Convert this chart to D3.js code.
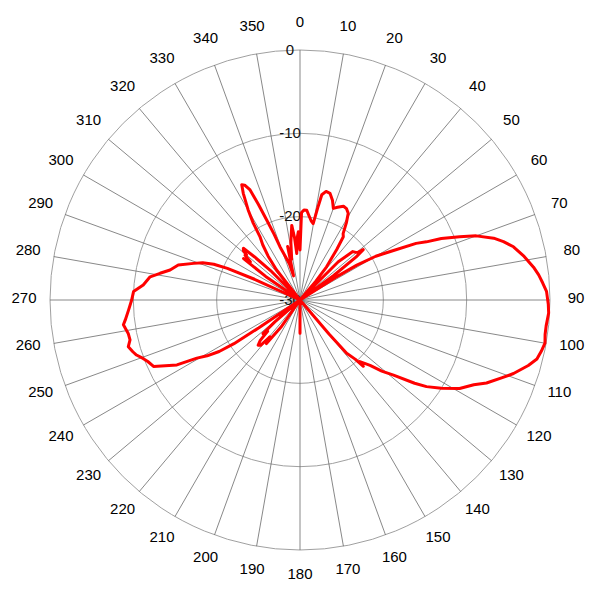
<!DOCTYPE html>
<html>
<head>
<meta charset="utf-8">
<script src="https://cdn.jsdelivr.net/npm/d3@7/dist/d3.min.js"></script>
<style>
  html, body { margin: 0; padding: 0; background: #fff; }
  svg { display: block; font-family: "Liberation Sans", Arial, sans-serif; }
</style>
</head>
<body>
<svg id="chart" width="600" height="600"></svg>
<script>
// ---- data ----
const angleTicks = d3.range(0, 360, 10);
const ringTicks = [0, -10, -20, -30];

const angles = [
  0, 1, 2.5, 4.3, 6, 8, 9.8, 11, 11.7, 13.5, 15.7, 18, 20, 22, 24.9, 27, 29.1, 31, 33, 34.4, 36, 38.7, 40, 41,
  42, 45, 47.5, 49.5, 50.5, 51.5, 52.5, 54, 55.5,
  56.5, 57.5, 58.5, 60, 62, 64, 65.3, 66.5, 68.4, 70, 72.3, 74, 76, 79, 82, 84, 86, 88, 91, 93, 96, 98, 100,
  102, 104, 106, 109, 111, 114, 116, 119, 122, 124.4, 126, 128.8, 131, 133, 135.8, 136.3, 137, 138.8, 139.5, 140.5,
  150, 170, 179, 180, 181, 200,
  213, 215, 217.6, 219.3, 221, 222.8, 224.5, 226, 227.8, 229, 231,
  235, 236, 236.5, 237.5, 239, 240.6, 242.2, 245.6, 248, 249.6, 251.4, 252.8, 254.8, 256.8, 259, 262, 263.5,
  266.7, 270, 272.9, 275.5, 278.8, 280.8, 283, 286, 289, 291, 292.5, 293.5, 294.5, 295.5,
  303, 304.5, 306.3, 307.5, 309.2, 310.2, 311, 312.4, 313.5, 315, 316.5,
  320, 322, 324, 326, 327.7, 328.7, 330.1, 332, 333.2, 334.3, 335.6, 336.5, 337.4, 338.5, 339.4, 341, 343.7,
  345, 347, 348.5, 351, 353.7, 355, 356, 357.5, 358.6, 359.5
];
const gains = [
  -24, -19.5, -19.2, -19.2, -19.8, -20.4, -20.7, -18.5, -17.1, -16.6, -16.7, -17.4, -18.3, -18, -17.6, -17.7, -18.1, -19.2, -20.5, -20.8, -22.5, -24.9, -27, -30,
  -30, -23.5, -21.4, -21.2, -21.0, -20.3, -21.5, -25, -30,
  -30, -25, -22, -19.5, -17.4, -14.5, -13.3, -11.5, -9.4, -7.5, -5.6, -4.6, -3.6, -2.6, -1.7, -1.2, -0.8, -0.4, -0.2, -0.12, -0.3, -0.3, -0.15,
  -0.4, -0.7, -1.5, -2.9, -4, -5.5, -6.8, -8.1, -10, -11.6, -13, -15.6, -17, -18.5, -19.7, -19.0, -20.3, -21.5, -24.6, -30,
  -30, -30, -30, -26, -30, -30,
  -30, -26, -23.4, -24.3, -22.8, -22.6, -23.2, -24.6, -24, -26, -30,
  -30, -24, -20.5, -18.5, -17, -15.8, -13.3, -10.7, -10.3, -9.9, -9.3, -9.0, -8.65, -9.05, -9.0, -8.6, -8.9,
  -9.4, -9.8, -10, -11.1, -11.8, -12.9, -14, -14.8, -16.5, -17.5, -18.8, -20.5, -24, -30,
  -30, -25, -21.6, -22.5, -21.5, -21.6, -21.0, -20.8, -22.5, -25, -30,
  -30, -25.4, -23.5, -22, -21, -19.2, -17.5, -15.5, -14.5, -14.7, -15.5, -17.5, -19.6, -21.5, -23.2, -24.3, -25.5,
  -27, -23.4, -25, -23, -21, -22.5, -24.4, -22.5, -21.8, -23
];

// ---- chart ----
const cx = 300, cy = 300, R = 250;
const svg = d3.select("#chart");
const g = svg.append("g").attr("transform", `translate(${cx},${cy})`);

const r = d3.scaleLinear().domain([-30, 0]).range([0, R]).clamp(true);
const toRad = d => d * Math.PI / 180;

// rings
g.selectAll("circle.ring").data(ringTicks.filter(d => d > -30)).join("circle")
  .attr("class", "ring")
  .attr("r", d => r(d))
  .attr("fill", "none")
  .attr("stroke", "#a0a0a0")
  .attr("stroke-width", 1);

// spokes
g.selectAll("line.spoke").data(angleTicks).join("line")
  .attr("class", "spoke")
  .attr("x1", 0).attr("y1", 0)
  .attr("x2", d => R * Math.sin(toRad(d)))
  .attr("y2", d => -R * Math.cos(toRad(d)))
  .attr("stroke", "#6a6a6a")
  .attr("stroke-width", 0.8);

// angle labels
const LR = 276;
g.selectAll("text.ang").data(angleTicks).join("text")
  .attr("class", "ang")
  .attr("x", d => LR * Math.sin(toRad(d)))
  .attr("y", d => -LR * Math.cos(toRad(d)) - 3)
  .attr("text-anchor", "middle")
  .attr("dominant-baseline", "central")
  .attr("font-size", 15)
  .attr("fill", "#000")
  .text(d => d);

// ring labels
g.selectAll("text.rl").data(ringTicks).join("text")
  .attr("class", "rl")
  .attr("x", -10)
  .attr("y", d => -r(d) - 1)
  .attr("text-anchor", "middle")
  .attr("dominant-baseline", "central")
  .attr("font-size", 15)
  .attr("fill", "#111")
  .text(d => d);

// pattern curve
const pts = angles.map((a, i) => [toRad(a), r(gains[i])]);
const radial = d3.lineRadial()
  .angle(d => d[0])
  .radius(d => d[1])
  .curve(d3.curveLinearClosed);

g.append("path")
  .attr("d", radial(pts))
  .attr("fill", "none")
  .attr("stroke", "#ff0000")
  .attr("stroke-width", 3)
  .attr("stroke-linejoin", "round");
</script>
</body>
</html>
